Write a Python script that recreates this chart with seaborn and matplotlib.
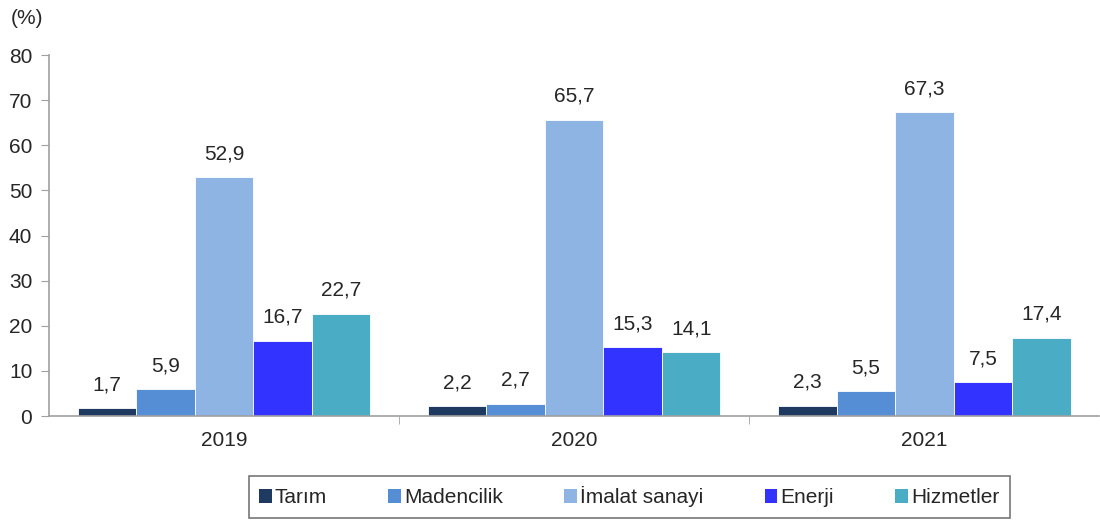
import pandas as pd
import matplotlib.pyplot as plt
import seaborn as sns
from matplotlib.ticker import FixedLocator

# veri
years = ['2019', '2020', '2021']
sectors = ['Tarım', 'Madencilik', 'İmalat sanayi', 'Enerji', 'Hizmetler']
tarim = [1.7, 2.2, 2.3]
madencilik = [5.9, 2.7, 5.5]
imalat = [52.9, 65.7, 67.3]
enerji = [16.7, 15.3, 7.5]
hizmetler = [22.7, 14.1, 17.4]
colors = ['#1F3A60', '#558ED5', '#8EB4E3', '#3333FF', '#4BACC6']

values = [tarim, madencilik, imalat, enerji, hizmetler]
rows = []
for s, vals in zip(sectors, values):
    for y, v in zip(years, vals):
        rows.append({'Yıl': y, 'Sektör': s, 'Değer': v})
df = pd.DataFrame(rows)

sns.set_style('white')
plt.rcParams['font.family'] = ['Liberation Sans', 'DejaVu Sans']
fs = 15

fig = plt.figure(figsize=(11, 5.24), dpi=100)
ax = fig.add_axes([0.0445, 0.206, 0.955, 0.689])

sns.barplot(data=df, x='Yıl', y='Değer', hue='Sektör', hue_order=sectors,
            order=years, palette=colors, saturation=1, width=0.835, gap=0,
            edgecolor='white', linewidth=0.6, ax=ax)

for cont in ax.containers:
    labels = [f"{b.get_height():.1f}".replace('.', ',') for b in cont]
    ax.bar_label(cont, labels=labels, padding=10, fontsize=fs)

ax.set_ylim(0, 80)
ax.set_xlim(-0.5, 2.5)
ax.set_yticks(range(0, 81, 10))
ax.set_xlabel('')
ax.set_ylabel('')
ax.tick_params(axis='y', labelsize=fs, length=6, color='#A0A0A0', direction='out', pad=6, left=True)
ax.tick_params(axis='x', labelsize=fs, length=0, pad=11)
ax.xaxis.set_minor_locator(FixedLocator([0.5, 1.5]))
ax.tick_params(axis='x', which='minor', length=6, color='#A0A0A0', direction='out', bottom=True)
for sp in ['top', 'right']:
    ax.spines[sp].set_visible(False)
for sp in ['left', 'bottom']:
    ax.spines[sp].set_color('#A0A0A0')
    ax.spines[sp].set_linewidth(1.2)

fig.text(0.01, 0.965, '(%)', fontsize=fs, va='center', ha='left')

handles, lbls = ax.get_legend_handles_labels()
ax.legend_.remove()
leg = fig.legend(handles, lbls, loc='center', bbox_to_anchor=(0.572, 0.052), ncol=5,
                 fontsize=fs, frameon=True, fancybox=False, edgecolor='#555555',
                 handlelength=0.6, handleheight=0.6, handletextpad=0.15,
                 columnspacing=2.95, borderpad=0.5, borderaxespad=0)
leg.get_frame().set_linewidth(1.2)
for h in leg.legend_handles:
    h.set_edgecolor('none')

fig.savefig('out.png', dpi=100)
